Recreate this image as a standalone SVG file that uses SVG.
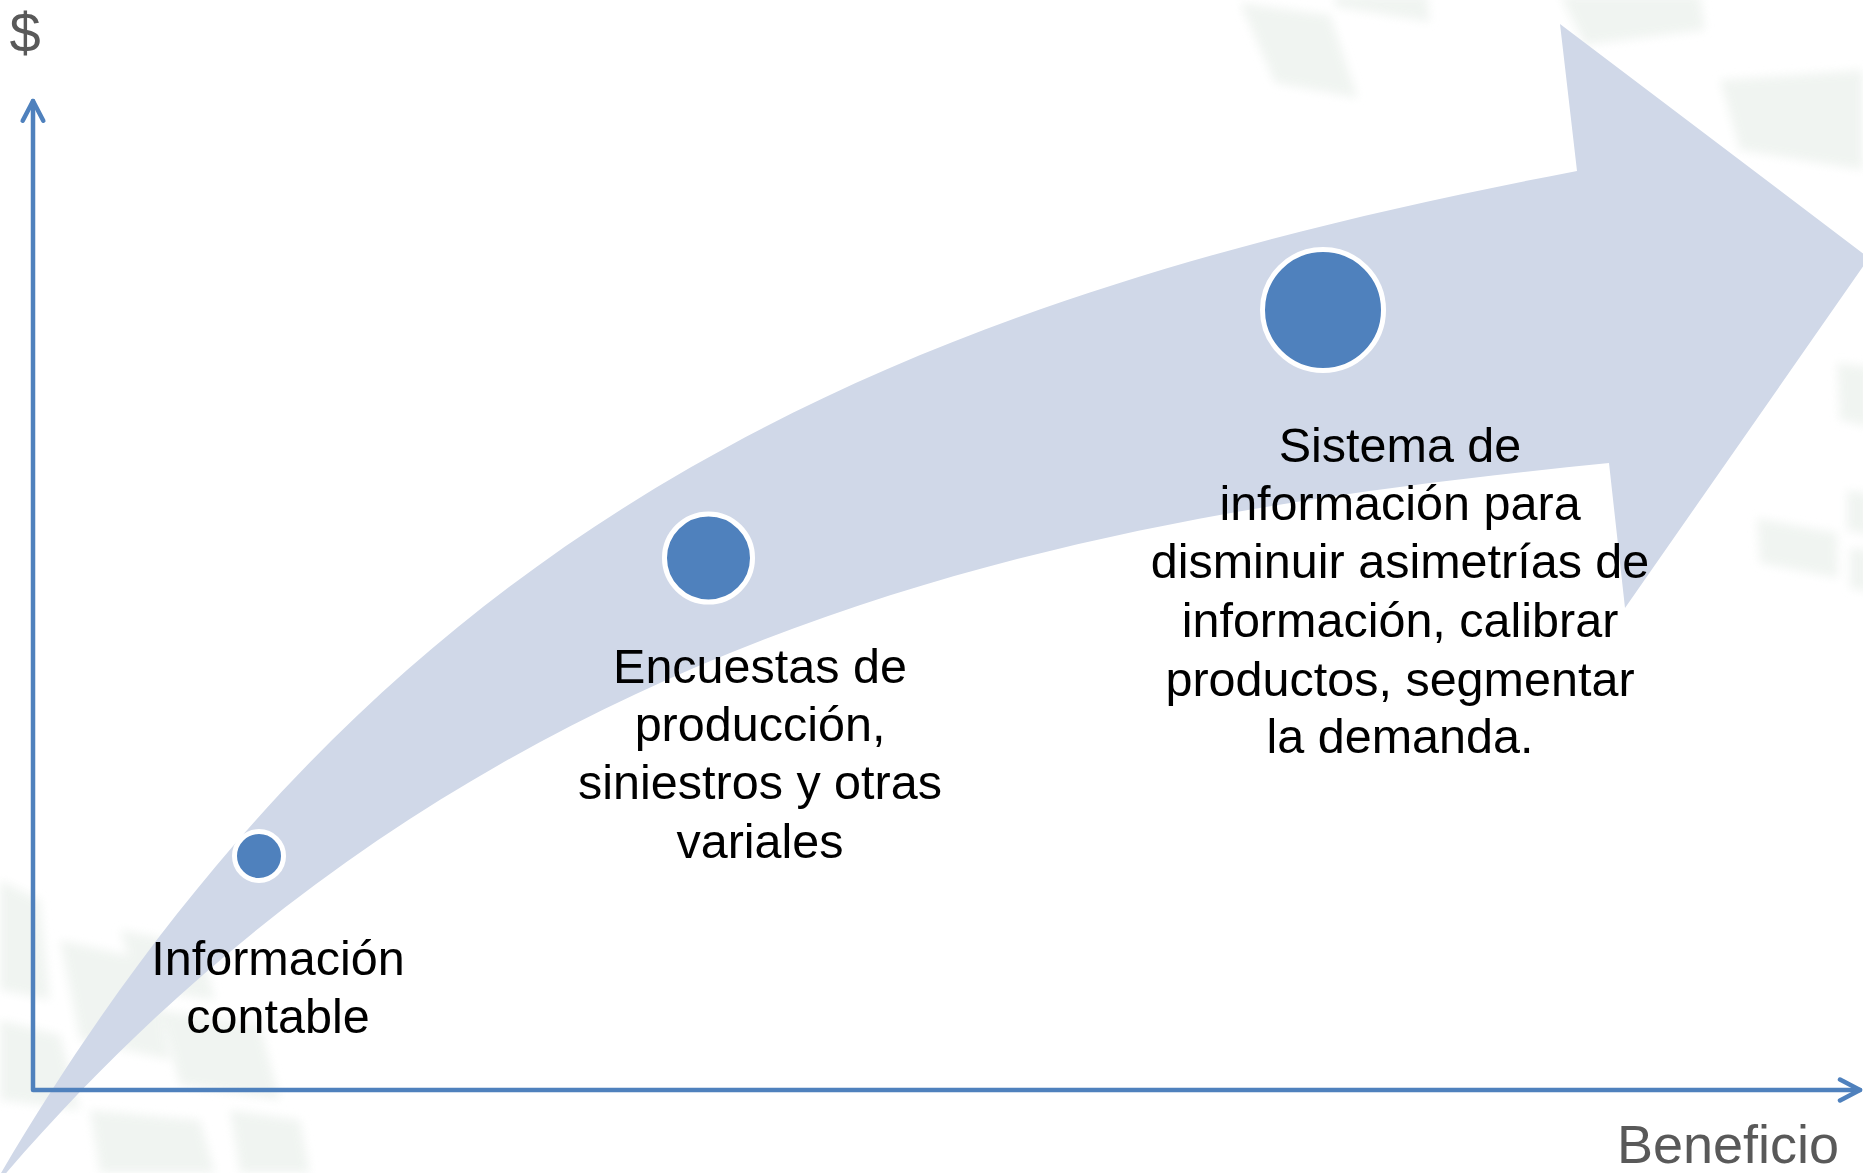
<svg xmlns="http://www.w3.org/2000/svg" width="1863" height="1173" viewBox="0 0 1863 1173">
<defs>
<style>
.lbl{font-family:"Liberation Sans",Arial,sans-serif;font-size:48.5px;fill:#000;text-anchor:middle}
.axl{font-family:"Liberation Sans",Arial,sans-serif;fill:#595959;text-anchor:middle}
.dot{fill:#4F81BD;stroke:#FFFFFF;stroke-width:5}
.axis{fill:none;stroke:#4F81BD;stroke-width:4.5;stroke-linecap:round;stroke-linejoin:round}
.tile{fill:#EEF3EF}
</style>
<filter id="soft" x="-20%" y="-20%" width="140%" height="140%"><feGaussianBlur stdDeviation="5"/></filter>
</defs>
<rect width="1863" height="1173" fill="#FFFFFF"/>
<g id="background" filter="url(#soft)" opacity="0.85">
<polygon class="tile" points="1240,3 1330,15 1358,98 1275,83"/>
<polygon class="tile" points="1333,-5 1427,-5 1430,22 1337,7"/>
<polygon class="tile" points="1560,-5 1700,-5 1705,30 1585,45"/>
<polygon class="tile" points="1720,80 1863,70 1863,170 1740,150"/>
<polygon class="tile" points="1837,363 1870,367 1870,427 1840,420"/>
<polygon class="tile" points="1757,518 1837,533 1838,578 1760,563"/>
<polygon class="tile" points="1847,490 1870,494 1870,535 1847,530"/>
<polygon class="tile" points="1850,548 1870,550 1870,592 1850,588"/>
<polygon class="tile" points="0,880 40,900 50,1000 0,990"/>
<polygon class="tile" points="60,940 150,960 170,1060 80,1040"/>
<polygon class="tile" points="120,930 200,945 215,1000 140,990"/>
<polygon class="tile" points="160,1010 260,1025 280,1100 180,1085"/>
<polygon class="tile" points="0,1020 60,1035 80,1110 0,1100"/>
<polygon class="tile" points="90,1110 200,1120 215,1173 100,1173"/>
<polygon class="tile" points="230,1110 300,1120 310,1173 240,1173"/>
</g>
<g id="band">
<path fill="#D0D8E8" d="M -10,1192 C 380,515 900,300 1577,171 L 1560,24 L 1869,258 L 1625,608 L 1609,463 C 1109,513 480,609 -10,1192 Z"/>
</g>
<g id="connectors">
<path class="axis" d="M 33,101 L 33,1090 L 1860,1090"/>
<path class="axis" d="M 22.7,120.7 L 33,101 L 43.3,120.7"/>
<path class="axis" d="M 1840,1079.5 L 1860,1090 L 1840,1100.5"/>
</g>
<g id="axis-y-label"><text class="axl" x="25" y="52" font-size="56">$</text></g>
<g id="axis-x-label"><text class="axl" x="1728" y="1163" font-size="54">Beneficio</text></g>
<g id="node-1">
<circle class="dot" cx="259" cy="856" r="24.5"/>
<text class="lbl" x="278" y="975">Información</text>
<text class="lbl" x="278" y="1033">contable</text>
</g>
<g id="node-2">
<circle class="dot" cx="708.5" cy="558" r="44"/>
<text class="lbl" x="760" y="683">Encuestas de</text>
<text class="lbl" x="760" y="741">producción,</text>
<text class="lbl" x="760" y="799">siniestros y otras</text>
<text class="lbl" x="760" y="858">variales</text>
</g>
<g id="node-3">
<circle class="dot" cx="1323" cy="310" r="60.5"/>
<text class="lbl" x="1400" y="462">Sistema de</text>
<text class="lbl" x="1400" y="520">información para</text>
<text class="lbl" x="1400" y="578">disminuir asimetrías de</text>
<text class="lbl" x="1400" y="637">información, calibrar</text>
<text class="lbl" x="1400" y="696">productos, segmentar</text>
<text class="lbl" x="1400" y="753">la demanda.</text>
</g>
</svg>
